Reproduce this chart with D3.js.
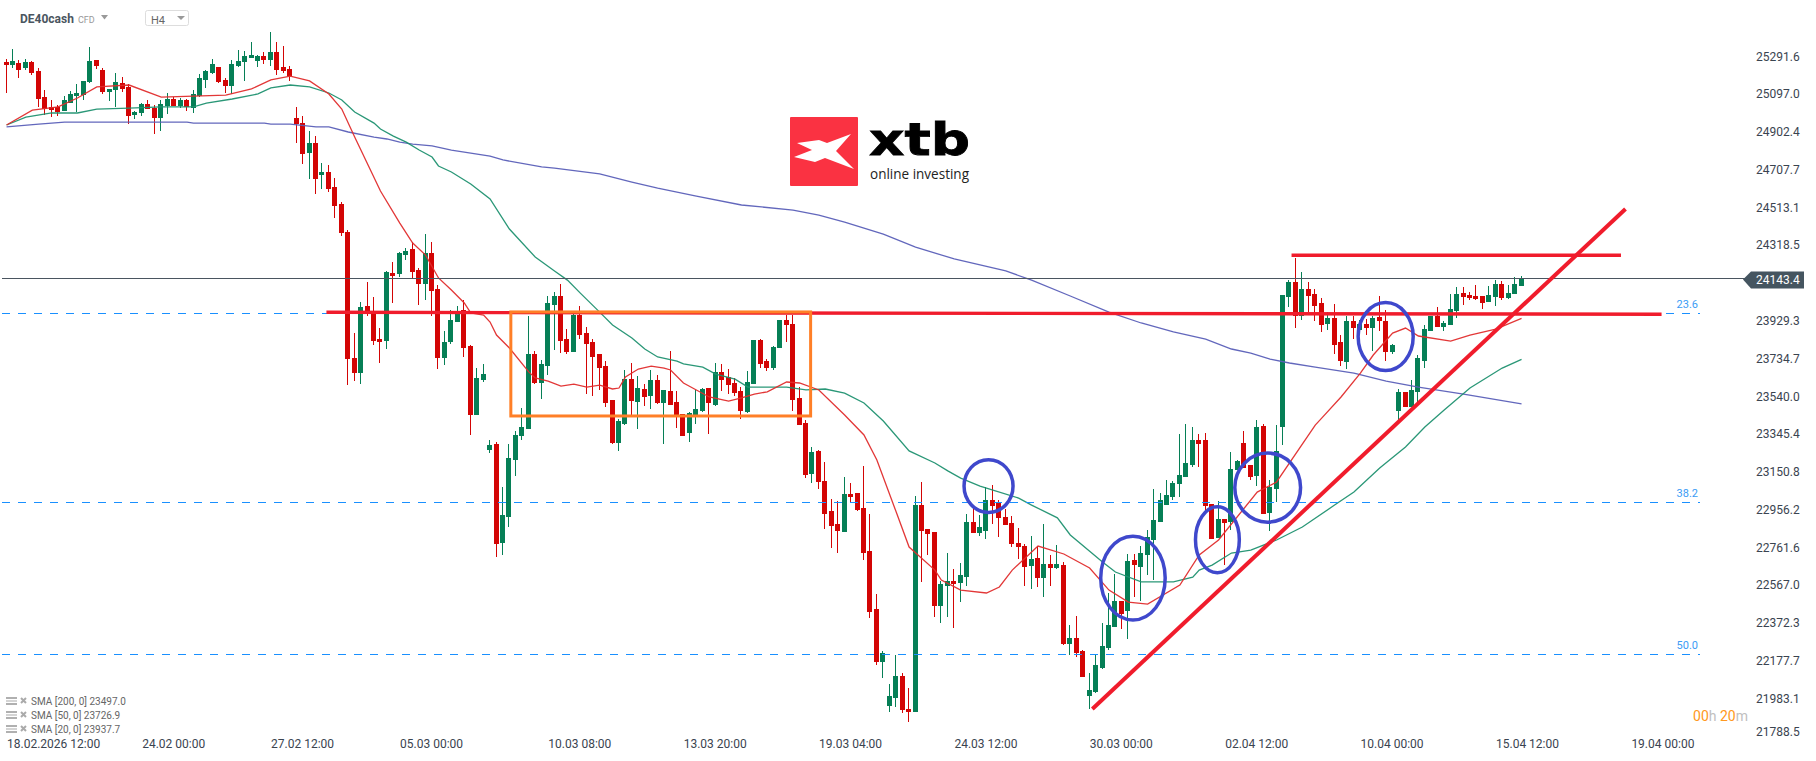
<!DOCTYPE html>
<html>
<head>
<meta charset="utf-8">
<title>DE40cash H4</title>
<script src="https://d3js.org/d3.v7.min.js"></script>
<style>
html, body { margin: 0; padding: 0; background: #fff; overflow: hidden; }
text { font-family: Roboto, sans-serif; }
</style>
</head>
<body>
<div id="myChart"></div>
<script>
// H4 candles, one value per bar, left to right
var opens = [
25259,25243,25253,25228,25259,25212,25078,25027,25027,25006,
25047,25083,25088,25156,25269,25217,25104,25114,25150,25130,
24985,24996,25042,25021,24970,25032,25068,25032,25063,25021,
25083,25166,25202,25233,25166,25135,25238,25259,25279,25264,
25289,25269,25310,25233,25223,24970,24944,24790,24841,24676,
24692,24615,24527,24383,23734,23657,24001,23970,23831,23821,
24172,24166,24264,24295,24187,24115,24275,24089,23734,23816,
23919,23981,23796,23440,23620,23260,23291,22780,22914,23208,
23332,23368,23754,23605,23692,24006,24053,23831,23765,23955,
23863,23816,23754,23692,23517,23296,23393,23625,23507,23574,
23538,23620,23502,23564,23507,23445,23347,23440,23461,23579,
23492,23662,23636,23605,23564,23455,23599,23826,23718,23682,
23785,23929,23909,23528,23399,23136,23255,23100,22945,22878,
22837,23033,23038,22961,22739,22440,22168,21941,21982,22096,
21925,21910,22976,22852,22837,22456,22559,22585,22574,22605,
22889,22832,22842,23002,22987,22914,22883,22780,22765,22662,
22703,22600,22672,22652,22667,22260,22291,22224,21992,22013,
22137,22239,22348,22482,22430,22693,22657,22719,22796,22889,
22976,23018,23085,23121,23183,23311,23311,22981,22806,22904,
22889,23157,23296,23183,23126,23383,22935,23059,23378,24048,
24125,23950,24089,24063,24017,23909,23940,23816,23713,23924,
23878,23909,23888,23945,23924,23765,23461,23559,23481,23559,
23718,23873,23950,23893,23904,23976,24068,24058,24053,24053,
24022,24048,24115,24043,24063,24105];
var highs = [
25274,25325,25269,25274,25264,25228,25114,25063,25037,25083,
25109,25145,25161,25336,25269,25228,25120,25202,25181,25145,
25006,25047,25063,25037,25063,25099,25078,25073,25068,25114,
25197,25217,25274,25233,25176,25269,25320,25315,25362,25295,
25310,25413,25362,25341,25238,25027,24980,24903,24877,24738,
24728,24661,24538,24393,23862,24022,24125,24048,23888,24182,
24228,24280,24301,24331,24197,24373,24331,24110,23873,23981,
24001,24032,23801,23682,23703,23311,23301,23068,23291,23358,
23476,23950,23770,23723,24053,24074,24115,23883,23960,24001,
23893,23832,23754,23718,23517,23419,23672,23708,23641,23600,
23672,23646,23569,23770,23564,23445,23455,23569,23579,23579,
23708,23703,23677,23631,23584,23667,23826,23831,23729,23796,
23929,23955,23955,23584,23414,23275,23260,23198,23007,22997,
23121,23090,23038,23178,22930,22517,22224,22054,22204,22111,
22034,23023,23095,22852,22837,22585,22729,22647,22677,22930,
22961,22925,23068,23079,23002,22956,22920,22858,22775,22817,
22765,22878,22718,22770,22683,22358,22404,22229,22111,22204,
22369,22523,22620,22482,22724,22724,22765,22847,23059,23038,
23105,23100,23342,23393,23378,23342,23347,22981,22997,22904,
23249,23208,23358,23183,23414,23393,23105,23388,24058,24135,
24249,24177,24125,24089,24043,23970,24012,23852,23950,23950,
23929,23935,23950,24053,23981,23806,23574,23559,23620,23749,
23904,23950,23996,23924,24063,24099,24099,24074,24110,24053,
24104,24135,24130,24110,24151,24156];
var lows = [
25099,25228,25176,25217,25191,25027,24985,24975,24980,25006,
25047,25001,25063,25150,25223,25094,25058,25027,25104,24939,
24965,24980,25016,24888,24903,24991,25032,25021,25006,24996,
25078,25125,25197,25150,25099,25094,25233,25161,25279,25233,
25248,25238,25191,25202,25161,24841,24733,24656,24579,24604,
24589,24455,24362,23594,23615,23599,23950,23800,23708,23780,
24017,24151,24238,24140,24006,24032,23950,23677,23698,23806,
23919,23739,23337,23440,23610,23245,22708,22718,22863,23126,
23311,23368,23599,23522,23646,23775,23760,23754,23765,23831,
23548,23538,23569,23481,23291,23255,23388,23440,23368,23486,
23471,23496,23291,23492,23373,23332,23301,23393,23455,23342,
23486,23564,23548,23538,23419,23450,23599,23682,23667,23672,
23785,23816,23461,23388,23115,23090,23059,22853,22755,22729,
22837,22992,22946,22693,22394,22152,22085,21910,21936,21905,
21859,21910,22580,22718,22399,22369,22399,22342,22476,22559,
22832,22817,22801,22878,22811,22873,22760,22698,22559,22543,
22554,22502,22559,22646,22255,22203,22193,22090,21925,22008,
22132,22229,22348,22337,22286,22502,22482,22615,22590,22889,
22976,23002,23018,23121,23172,23172,22941,22801,22806,22667,
22847,23157,23167,23105,23074,22930,22842,22992,23286,23996,
23888,23929,23970,23924,23868,23878,23754,23692,23677,23831,
23852,23852,23770,23873,23718,23754,23414,23481,23481,23507,
23682,23873,23893,23873,23904,23940,24007,24032,24032,23986,
24022,24001,24032,24038,24063,24105];
var closes = [
25243,25264,25217,25259,25202,25068,25016,25011,25001,25063,
25094,25099,25161,25264,25238,25104,25120,25156,25120,24980,
25001,25042,25016,24970,25042,25068,25032,25063,25027,25094,
25176,25212,25248,25156,25135,25248,25264,25289,25295,25289,
25269,25310,25217,25212,25186,24939,24785,24841,24656,24692,
24604,24517,24378,23729,23657,23996,23966,23821,23816,24177,
24156,24275,24285,24177,24115,24275,24079,23734,23816,23929,
23970,23785,23440,23630,23651,23286,22775,22925,23218,23337,
23378,23754,23605,23703,24017,24053,23821,23765,23955,23852,
23805,23739,23682,23502,23296,23409,23625,23512,23579,23533,
23620,23502,23569,23492,23440,23332,23450,23471,23574,23502,
23662,23620,23594,23553,23461,23610,23826,23703,23682,23790,
23929,23903,23517,23388,23131,23250,23095,22930,22868,22842,
23033,23017,22951,22729,22425,22168,22214,21992,22096,21920,
21910,22976,22842,22827,22456,22569,22585,22569,22616,22889,
22832,22863,23002,22971,22909,22873,22775,22760,22657,22698,
22600,22672,22652,22672,22260,22291,22213,22090,22023,22152,
22250,22358,22482,22415,22688,22667,22729,22811,22899,23002,
23028,23090,23131,23193,23311,23291,22971,22801,22904,22883,
23162,23203,23167,23121,23378,22930,23069,23255,24058,24125,
23950,24089,24053,24001,23904,23940,23801,23718,23924,23888,
23909,23888,23940,23924,23765,23800,23559,23481,23569,23733,
23883,23950,23893,23914,23986,24063,24048,24043,24038,24017,
24058,24115,24043,24068,24115,24146];

// moving averages at these bar numbers
var sma20Bars = [0,4,8,11,14,19,24,29,34,38,41,44,47,50,52,54,58,61,63,65,67,69,71,72,74,75,76,78,81,82,84,86,88,90,92,94,95,96,98,100,102,103,105,107,109,112,114,116,118,121,123,126,130,133,135,138,140,144,145,148,152,154,156,160,164,168,171,174,177,182,185,188,194,197,203,204,207,210,212,215,217,219,224,227,231,235];
var sma20Values = [24934,25011,25027,25073,25130,25140,25078,25083,25088,25120,25166,25186,25161,25094,25016,24872,24594,24429,24326,24264,24146,24084,24017,23966,23955,23919,23852,23785,23662,23631,23615,23589,23599,23584,23594,23574,23579,23636,23677,23692,23682,23672,23605,23569,23533,23512,23528,23548,23559,23610,23605,23569,23440,23337,23208,22940,22760,22641,22590,22538,22523,22554,22641,22765,22724,22652,22538,22476,22466,22564,22719,22796,23043,23095,23388,23424,23533,23656,23749,23862,23888,23847,23821,23852,23883,23937.7];
var sma50Bars = [0,3,7,11,14,19,24,29,31,35,39,41,44,47,50,52,54,57,58,60,62,64,66,67,69,72,75,78,82,85,87,89,92,94,97,99,101,104,105,108,110,113,115,118,121,124,127,130,133,136,140,144,146,148,151,157,159,163,165,170,172,176,181,184,185,187,190,193,197,201,206,209,213,217,220,223,227,232,235];
var sma50Values = [24934,24975,24996,24996,25016,25021,25027,25027,25047,25068,25094,25125,25140,25130,25099,25063,25001,24944,24913,24877,24846,24805,24769,24723,24692,24630,24553,24398,24254,24182,24135,24068,23970,23904,23837,23780,23739,23718,23703,23687,23651,23625,23584,23584,23584,23569,23574,23553,23502,23409,23255,23193,23152,23115,23074,23012,22976,22910,22822,22683,22631,22580,22580,22605,22641,22667,22729,22744,22796,22863,22976,23043,23167,23275,23378,23466,23579,23682,23726.9];
var sma200Bars = [0,5,9,17,28,29,40,41,44,48,50,53,57,59,61,63,66,69,75,77,83,85,92,97,101,107,114,122,126,130,136,141,147,155,159,165,171,176,181,186,190,193,196,199,203,209,214,219,226,235];
var sma200Values = [24924,24939,24949,24949,24949,24944,24944,24939,24939,24924,24924,24898,24872,24862,24846,24836,24826,24805,24774,24754,24718,24712,24682,24640,24609,24568,24522,24496,24470,24434,24372,24305,24244,24182,24135,24053,23970,23914,23868,23831,23780,23759,23728,23708,23687,23656,23615,23584,23548,23497];

// axes
var priceTicks = [25291.6,25097.0,24902.4,24707.7,24513.1,24318.5,23929.3,23734.7,23540.0,23345.4,23150.8,22956.2,22761.6,22567.0,22372.3,22177.7,21983.1,21788.5];
var timeBars = [0,26,46,66,89,110,131,152,173,194,215,236,257];
var timeLabels = ['18.02.2026 12:00','24.02 00:00','27.02 12:00','05.03 00:00','10.03 08:00','13.03 20:00','19.03 04:00','24.03 12:00','30.03 00:00','02.04 12:00','10.04 00:00','15.04 12:00','19.04 00:00'];

// fibonacci levels
var fibLevels = ['23.6','38.2','50.0'];
var fibPrices = [23964,22990,22207];

var lastPrice = 24143.4;
var legendNames = ['SMA [200, 0] 23497.0','SMA [50, 0] 23726.9','SMA [20, 0] 23937.7'];

// hand drawn annotations, in bars and prices
var supportLine = {bars: [49.7,256.8], prices: [23969,23959]};
var resistanceLine = {bars: [199.4,250.5], prices: [24263,24263]};
var trendLine = {bars: [168.5,251.2], prices: [21925,24501]};
var rangeBox = {bars: [78.3,124.8], prices: [23971,23435]};
var circleBars = [152.4,174.8,187.9,195.7,214];
var circlePrices = [23074,22600,22797,23066,23844];
var circleBarRadius = [3.8,5,3.4,5.1,4.27];
var circlePriceRadius = [136,216,170,178,175];

var width = 1816, height = 761;
var upColor = '#067f56', downColor = '#d30505', redInk = '#f01c2c', blueInk = '#3f48cc';

var x = d3.scaleLinear().domain([0, 235]).range([6.05, 1521.05]);
var y = d3.scaleLinear().domain([25291.6, 21983.1]).range([55.6, 697.8]);
var pricePerPixel = (25291.6 - 21983.1) / (697.8 - 55.6);

var svg = d3.select('#myChart').append('svg')
    .attr('width', width)
    .attr('height', height)
    .style('display', 'block');

// logo sits behind everything
var logo = svg.append('g');
logo.append('rect')
    .attr('x', 790).attr('y', 117).attr('width', 68).attr('height', 69).attr('rx', 1)
    .attr('fill', '#fa3242');
logo.append('polygon')
    .attr('fill', '#fff')
    .attr('points', '797,143 819,140 827,143 851,134 836,151 854,169 825,158 815,162 794,157 812,150');
logo.append('text')
    .attr('x', 869).attr('y', 155)
    .attr('font-size', 45).attr('font-weight', 700)
    .style('font-family', '"DejaVu Sans", sans-serif')
    .attr('textLength', 101).attr('lengthAdjust', 'spacingAndGlyphs')
    .attr('fill', '#000')
    .attr('stroke', '#000').attr('stroke-width', 0.8)
    .text('xtb');
logo.append('text')
    .attr('x', 870).attr('y', 179)
    .attr('font-size', 14)
    .style('font-family', '"Open Sans", sans-serif')
    .attr('textLength', 99).attr('lengthAdjust', 'spacingAndGlyphs')
    .attr('fill', '#222')
    .text('online investing');

// candles
var bars = d3.range(opens.length);
var candles = svg.append('g').attr('shape-rendering', 'crispEdges');
candles.selectAll('.wick')
    .data(bars)
    .enter().append('rect')
    .attr('class', 'wick')
    .attr('x', function(i) { return Math.floor(x(i)); })
    .attr('y', function(i) { return Math.round(y(highs[i])); })
    .attr('width', 1)
    .attr('height', function(i) { return Math.round(y(lows[i])) - Math.round(y(highs[i])); })
    .attr('fill', function(i) { return closes[i] >= opens[i] ? upColor : downColor; });
candles.selectAll('.body')
    .data(bars)
    .enter().append('rect')
    .attr('class', 'body')
    .attr('x', function(i) { return Math.floor(x(i)) - 2; })
    .attr('y', function(i) { return Math.round(y(Math.max(opens[i], closes[i]))); })
    .attr('width', 5)
    .attr('height', function(i) {
        return Math.max(2, Math.round(y(Math.min(opens[i], closes[i]))) - Math.round(y(Math.max(opens[i], closes[i]))));
    })
    .attr('fill', function(i) { return closes[i] >= opens[i] ? upColor : downColor; });

// moving averages
function drawAverage(barList, values, color) {
    var line = d3.line()
        .x(function(d) { return x(d) + 0.5; })
        .y(function(d, i) { return y(values[i]); });
    svg.append('path')
        .attr('d', line(barList))
        .attr('fill', 'none')
        .attr('stroke', color)
        .attr('stroke-width', 1.3)
        .attr('stroke-opacity', 0.95);
}
drawAverage(sma200Bars, sma200Values, '#5a5fb8');
drawAverage(sma50Bars, sma50Values, '#1f9170');
drawAverage(sma20Bars, sma20Values, '#e02c2c');

// fibonacci dashes and their labels
fibPrices.forEach(function(p, i) {
    svg.append('line')
        .attr('x1', 2).attr('x2', 1700)
        .attr('y1', Math.round(y(p)) + 0.5).attr('y2', Math.round(y(p)) + 0.5)
        .attr('stroke', '#1a90ff').attr('stroke-width', 1)
        .attr('stroke-dasharray', '8,8');
    svg.append('text')
        .attr('x', 1698).attr('y', y(p) - 5)
        .attr('text-anchor', 'end')
        .attr('font-size', 11)
        .attr('fill', '#3b9cf5')
        .text(fibLevels[i]);
});

// current price line
svg.append('line')
    .attr('x1', 2).attr('x2', 1745)
    .attr('y1', Math.round(y(lastPrice)) + 0.5).attr('y2', Math.round(y(lastPrice)) + 0.5)
    .attr('stroke', '#4a5560').attr('stroke-width', 1);

// annotations
function drawStroke(d, color, w) {
    svg.append('line')
        .attr('x1', x(d.bars[0])).attr('x2', x(d.bars[1]))
        .attr('y1', y(d.prices[0])).attr('y2', y(d.prices[1]))
        .attr('stroke', color).attr('stroke-width', w);
}
drawStroke(supportLine, redInk, 3.4);
drawStroke(resistanceLine, redInk, 3.4);
drawStroke(trendLine, redInk, 4);

svg.append('rect')
    .attr('x', x(rangeBox.bars[0])).attr('y', y(rangeBox.prices[0]))
    .attr('width', x(rangeBox.bars[1]) - x(rangeBox.bars[0]))
    .attr('height', y(rangeBox.prices[1]) - y(rangeBox.prices[0]))
    .attr('fill', 'none')
    .attr('stroke', '#ff7f27').attr('stroke-width', 3);

svg.selectAll('.circle')
    .data(circleBars)
    .enter().append('ellipse')
    .attr('class', 'circle')
    .attr('cx', function(d) { return x(d); })
    .attr('cy', function(d, i) { return y(circlePrices[i]); })
    .attr('rx', function(d, i) { return x(circleBarRadius[i]) - x(0); })
    .attr('ry', function(d, i) { return circlePriceRadius[i] / pricePerPixel; })
    .attr('fill', 'none')
    .attr('stroke', blueInk).attr('stroke-width', 3.5);

// price axis, the last label is held above the time axis
svg.selectAll('.priceLabel')
    .data(priceTicks)
    .enter().append('text')
    .attr('class', 'priceLabel')
    .attr('x', 1756)
    .attr('y', function(d) { return Math.min(y(d) + 1, 732) + 4; })
    .attr('font-size', 12)
    .attr('fill', '#3a4450')
    .text(function(d) { return d.toFixed(1); });

// last price tag
var tagY = y(lastPrice) + 1;
svg.append('polygon')
    .attr('fill', '#455560')
    .attr('points', [[1743, tagY], [1751, tagY - 8], [1804, tagY - 8], [1804, tagY + 9], [1751, tagY + 9]].join(' '));
svg.append('text')
    .attr('x', 1756).attr('y', tagY + 5)
    .attr('font-size', 12)
    .attr('fill', '#fff')
    .text(lastPrice.toFixed(1));

// time axis
svg.selectAll('.timeLabel')
    .data(timeLabels)
    .enter().append('text')
    .attr('class', 'timeLabel')
    .attr('x', function(d, i) { return i == 0 ? 7 : x(timeBars[i]); })
    .attr('y', 748)
    .attr('text-anchor', function(d, i) { return i == 0 ? 'start' : 'middle'; })
    .attr('font-size', 12)
    .attr('fill', '#3a4450')
    .text(function(d) { return d; });

// indicator legend, bottom left
legendNames.forEach(function(name, i) {
    var ly = 701 + i * 14;
    var g = svg.append('g');
    [-4, -1, 2].forEach(function(o) {
        g.append('rect')
            .attr('x', 6).attr('y', ly + o).attr('width', 11).attr('height', 2)
            .attr('fill', o == -1 ? '#d4d4d4' : '#b0b0b0');
    });
    g.append('path')
        .attr('d', 'M21,' + (ly - 3) + 'L26,' + (ly + 2) + 'M26,' + (ly - 3) + 'L21,' + (ly + 2))
        .attr('stroke', '#aaa').attr('stroke-width', 2);
    g.append('text')
        .attr('x', 31).attr('y', ly + 4)
        .attr('font-size', 10)
        .attr('fill', '#666')
        .text(name);
});

// candle countdown
var timer = svg.append('text')
    .attr('x', 1748).attr('y', 721)
    .attr('text-anchor', 'end')
    .attr('font-size', 14);
timer.append('tspan').attr('fill', '#ff9820').text('00');
timer.append('tspan').attr('fill', '#c0c0c0').text('h ');
timer.append('tspan').attr('fill', '#ff9820').text('20');
timer.append('tspan').attr('fill', '#c0c0c0').text('m');

// instrument header
svg.append('text')
    .attr('x', 20).attr('y', 23)
    .attr('font-size', 12).attr('font-weight', 700)
    .attr('fill', '#4a5560')
    .text('DE40cash');
svg.append('text')
    .attr('x', 78).attr('y', 23)
    .attr('font-size', 9)
    .attr('fill', '#999')
    .text('CFD');
svg.append('polygon').attr('points', '101,15 108,15 104.5,19.5').attr('fill', '#999');
svg.append('rect')
    .attr('x', 145.5).attr('y', 10.5).attr('width', 43).attr('height', 15).attr('rx', 2)
    .attr('fill', '#fff').attr('stroke', '#ddd');
svg.append('text')
    .attr('x', 151).attr('y', 24)
    .attr('font-size', 11)
    .attr('fill', '#666')
    .text('H4');
svg.append('polygon').attr('points', '177,16 185,16 181,20').attr('fill', '#999');
</script>
</body>
</html>
